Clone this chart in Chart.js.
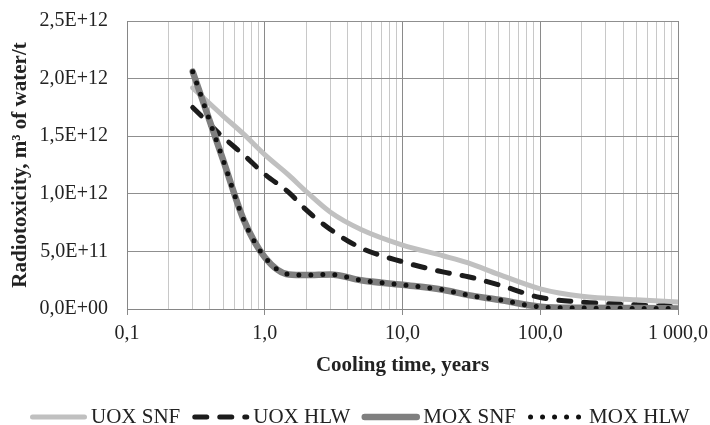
<!DOCTYPE html>
<html lang="en">
<head>
<meta charset="UTF-8">
<title>Radiotoxicity vs cooling time</title>
<script src="https://cdn.jsdelivr.net/npm/chart.js"></script>
<style>
    html, body { margin: 0; padding: 0; background: #fff; }
    #wrap { width: 710px; height: 425px; }
</style>
</head>
<body>
<div id="wrap"><canvas id="myChart"></canvas></div>

<script>
    // cooling time, years
    var years = [0.3, 0.5, 0.7, 1, 1.5, 2, 3, 5, 10, 20, 30, 50, 100, 200, 500, 1000];

    // radiotoxicity, m3 of water/t
    var uoxSnf = [1.92e12, 1.675e12, 1.52e12, 1.34e12, 1.16e12, 1.02e12, 0.84e12, 0.69e12, 0.555e12, 0.46e12, 0.40e12, 0.30e12, 0.175e12, 0.11e12, 0.08e12, 0.06e12];
    var uoxHlw = [1.75e12, 1.49e12, 1.34e12, 1.17e12, 1.01e12, 0.86e12, 0.69e12, 0.53e12, 0.41e12, 0.32e12, 0.28e12, 0.21e12, 0.10e12, 0.06e12, 0.035e12, 0.02e12];
    var moxSnf = [2.06e12, 1.29e12, 0.78e12, 0.45e12, 0.30e12, 0.295e12, 0.30e12, 0.25e12, 0.21e12, 0.165e12, 0.12e12, 0.08e12, 0.02e12, 0.01e12, 0.008e12, 0.005e12];
    var moxHlw = [2.06e12, 1.29e12, 0.78e12, 0.45e12, 0.30e12, 0.295e12, 0.30e12, 0.25e12, 0.21e12, 0.165e12, 0.12e12, 0.08e12, 0.018e12, 0.008e12, 0.005e12, 0.003e12];

    // axis ticks
    var xTicks = [0.1, 0.2, 0.3, 0.4, 0.5, 0.6, 0.7, 0.8, 0.9,
                  1, 2, 3, 4, 5, 6, 7, 8, 9,
                  10, 20, 30, 40, 50, 60, 70, 80, 90,
                  100, 200, 300, 400, 500, 600, 700, 800, 900, 1000];
    var yTicks = [0, 0.5e12, 1.0e12, 1.5e12, 2.0e12, 2.5e12];

    var serif = '"Liberation Serif", "Times New Roman", serif';
    var textColor = '#222';

    function isDecade(v) {
        var l = Math.log10(v);
        return Math.abs(l - Math.round(l)) < 1e-9;
    }

    // 1000 -> "1 000,0"
    function fmtX(v) {
        var s = v.toFixed(1).split('.');
        var intPart = s[0].replace(/\B(?=(\d{3})+(?!\d))/g, ' ');
        return intPart + ',' + s[1];
    }

    // 2.5e12 -> "2,5E+12"
    function fmtY(v) {
        if (v === 0) return '0,0E+00';
        var p = v.toExponential(1).split('e');
        var exp = parseInt(p[1], 10);
        var e = (exp < 0 ? '-' : '+') + (Math.abs(exp) < 10 ? '0' : '') + Math.abs(exp);
        return p[0].replace('.', ',') + 'E' + e;
    }

    function toPoints(arr) {
        return years.map(function(x, i) { return {x: x, y: arr[i]}; });
    }

    var datasets = [
        { label: 'UOX SNF', data: toPoints(uoxSnf), borderColor: '#c0c0c0', borderWidth: 5, borderDash: [], borderCapStyle: 'round', order: 4 },
        { label: 'UOX HLW', data: toPoints(uoxHlw), borderColor: '#1c1c1c', borderWidth: 5, borderDash: [12, 13], borderCapStyle: 'round', order: 3 },
        { label: 'MOX SNF', data: toPoints(moxSnf), borderColor: '#7f7f7f', borderWidth: 6.5, borderDash: [], borderCapStyle: 'round', order: 2 },
        { label: 'MOX HLW', data: toPoints(moxHlw), borderColor: '#111111', borderWidth: 5, borderDash: [0, 12], borderCapStyle: 'round', order: 1 }
    ];
    datasets.forEach(function(d) {
        d.pointRadius = 0;
        d.fill = false;
        d.cubicInterpolationMode = 'monotone';
        d.backgroundColor = d.borderColor;
    });

    // legend along the bottom, drawn with the dataset styles
    var bottomLegend = {
        id: 'bottomLegend',
        afterDraw: function(chart) {
            var ctx = chart.ctx;
            var y = 417;
            var x = 30;
            var sample = 57;
            ctx.save();
            ctx.font = '21px ' + serif;
            ctx.textBaseline = 'middle';
            ctx.fillStyle = textColor;
            datasets.forEach(function(d) {
                ctx.beginPath();
                ctx.strokeStyle = d.borderColor;
                ctx.lineWidth = d.borderWidth;
                ctx.lineCap = d.borderCapStyle;
                ctx.setLineDash(d.borderDash);
                ctx.moveTo(x + 2.5, y);
                ctx.lineTo(x + sample - 2.5, y);
                ctx.stroke();
                ctx.setLineDash([]);
                x += sample + 4;
                ctx.fillText(d.label, x, y);
                x += ctx.measureText(d.label).width + 12;
            });
            ctx.restore();
        }
    };

    var ctx = document.getElementById('myChart').getContext('2d');
    var myChart = new Chart(ctx, {
        type: 'line',
        data: { datasets: datasets },
        plugins: [bottomLegend],
        options: {
            responsive: true,
            maintainAspectRatio: false,
            animation: false,
            layout: { padding: { left: 0, right: 32, top: 21, bottom: 44 } },
            plugins: {
                legend: { display: false },
                tooltip: { enabled: false }
            },
            scales: {
                x: {
                    type: 'logarithmic',
                    min: 0.1,
                    max: 1000,
                    afterBuildTicks: function(scale) {
                        scale.ticks = xTicks.map(function(v) { return {value: v, major: isDecade(v)}; });
                    },
                    afterFit: function(scale) {
                        scale.height = 72;
                        scale.paddingLeft = 0;
                        scale.paddingRight = 0;
                    },
                    ticks: {
                        autoSkip: false,
                        maxRotation: 0,
                        padding: 7,
                        color: textColor,
                        font: { family: serif, size: 20 },
                        callback: function(value) { return isDecade(value) ? fmtX(value) : ''; }
                    },
                    grid: {
                        color: function(c) { return c.tick && isDecade(c.tick.value) ? '#8a8a8a' : '#c8c8c8'; },
                        tickColor: function(c) { return c.tick && isDecade(c.tick.value) ? '#8a8a8a' : 'rgba(0,0,0,0)'; },
                        tickLength: 6,
                        lineWidth: 1
                    },
                    border: { color: '#868686', width: 1 },
                    title: {
                        display: true,
                        text: 'Cooling time, years',
                        color: textColor,
                        font: { family: serif, size: 21, weight: 'bold' },
                        padding: { top: 0, bottom: 3 }
                    }
                },
                y: {
                    min: 0,
                    max: 2.5e12,
                    afterBuildTicks: function(scale) {
                        scale.ticks = yTicks.map(function(v) { return {value: v}; });
                    },
                    afterFit: function(scale) {
                        scale.width = 127;
                        scale.paddingTop = 0;
                        scale.paddingBottom = 0;
                    },
                    ticks: {
                        padding: 19,
                        color: textColor,
                        font: { family: serif, size: 20 },
                        callback: function(value) { return fmtY(value); }
                    },
                    grid: { color: '#8f8f8f', drawTicks: false, lineWidth: 1 },
                    border: { color: '#868686', width: 1 },
                    title: {
                        display: true,
                        text: 'Radiotoxicity, m³ of water/t',
                        color: textColor,
                        font: { family: serif, size: 21, weight: 'bold' },
                        padding: { top: 8, bottom: 0 }
                    }
                }
            }
        }
    });
</script>
</body>
</html>
